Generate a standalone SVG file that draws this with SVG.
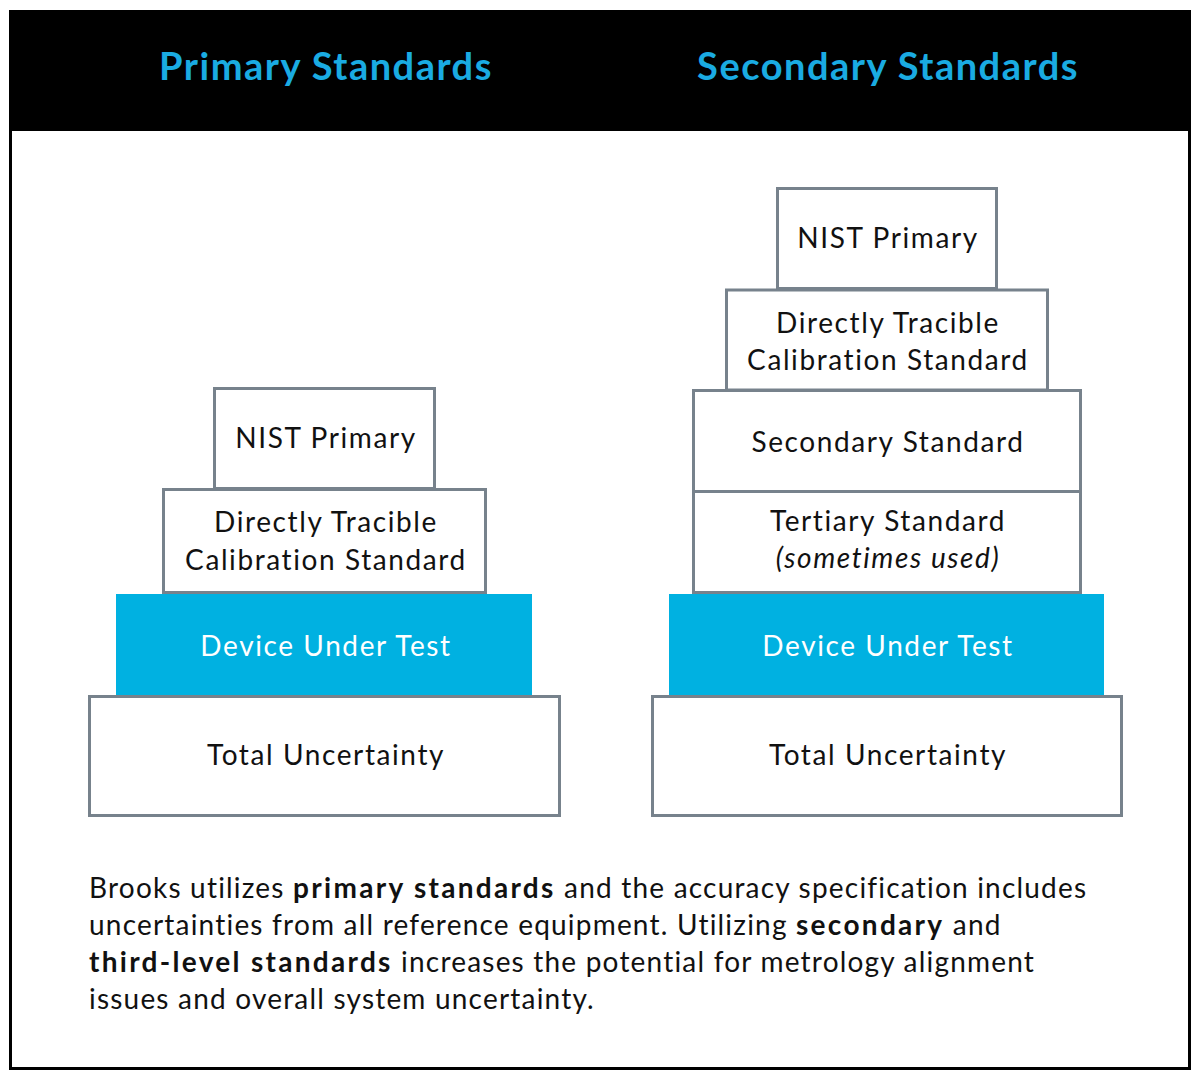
<svg xmlns="http://www.w3.org/2000/svg" width="1200" height="1080" viewBox="0 0 1200 1080">
<style>
.box{fill:#fff;stroke:#77828c;stroke-width:3}
.dut{fill:#00b1e1}
.t{font-family:Lato,"Open Sans","Liberation Sans",sans-serif;font-size:28px;letter-spacing:1.6px;font-variant-ligatures:none;fill:#111;text-anchor:middle}
.w{fill:#fff}
.h{font-family:Lato,"Open Sans","Liberation Sans",sans-serif;font-size:38px;letter-spacing:1.5px;font-weight:bold;fill:#1aabe2;text-anchor:middle}
.b{font-family:Lato,"Open Sans","Liberation Sans",sans-serif;font-size:28px;letter-spacing:1.2px;font-variant-ligatures:none;fill:#111}
.bb{font-weight:bold;letter-spacing:2.3px}
</style>
<rect x="0" y="0" width="1200" height="1080" fill="#fff"/>
<rect x="10.5" y="11.5" width="1179" height="1057" fill="#fff" stroke="#000" stroke-width="3"/>
<rect x="9" y="10" width="1182" height="121" fill="#000"/>
<text class="h" x="326" y="80">Primary Standards</text>
<text class="h" x="888" y="80">Secondary Standards</text>
<g id="left">
<g id="l-nist"><rect class="box" x="214.5" y="388.5" width="220" height="100"/><text class="t" x="326" y="448">NIST Primary</text></g>
<g id="l-direct"><rect class="box" x="163.5" y="489.5" width="322" height="103"/><text class="t" x="326" y="532">Directly Tracible</text><text class="t" x="326" y="570">Calibration Standard</text></g>
<g id="l-dut"><rect class="dut" x="116" y="594" width="416" height="101"/><text class="t w" x="326" y="656">Device Under Test</text></g>
<g id="l-total"><rect class="box" x="89.5" y="696.5" width="470" height="119"/><text class="t" x="326" y="765">Total Uncertainty</text></g>
</g>
<g id="right">
<g id="r-nist"><rect class="box" x="777.5" y="188.5" width="219" height="100"/><text class="t" x="888" y="248">NIST Primary</text></g>
<g id="r-direct"><rect class="box" x="726.5" y="290" width="321" height="100"/><text class="t" x="888" y="333">Directly Tracible</text><text class="t" x="888" y="370">Calibration Standard</text></g>
<g id="r-secondary"><rect class="box" x="693.5" y="390.5" width="387" height="101"/><text class="t" x="888" y="452">Secondary Standard</text></g>
<g id="r-tertiary"><rect class="box" x="693.5" y="491.5" width="387" height="101"/><text class="t" x="888" y="531">Tertiary Standard</text><text class="t" x="888" y="568" font-style="italic">(sometimes used)</text></g>
<g id="r-dut"><rect class="dut" x="669" y="594" width="435" height="101"/><text class="t w" x="888" y="656">Device Under Test</text></g>
<g id="r-total"><rect class="box" x="652.5" y="696.5" width="469" height="119"/><text class="t" x="888" y="765">Total Uncertainty</text></g>
</g>
<g id="connectors"></g>
<g id="caption">
<text class="b" x="89" y="898">Brooks utilizes <tspan class="bb">primary standards</tspan> and the accuracy specification includes</text>
<text class="b" x="89" y="935">uncertainties from all reference equipment. Utilizing <tspan class="bb">secondary</tspan> and</text>
<text class="b" x="89" y="972"><tspan class="bb">third-level standards</tspan> increases the potential for metrology alignment</text>
<text class="b" x="89" y="1009">issues and overall system uncertainty.</text>
</g>
</svg>
